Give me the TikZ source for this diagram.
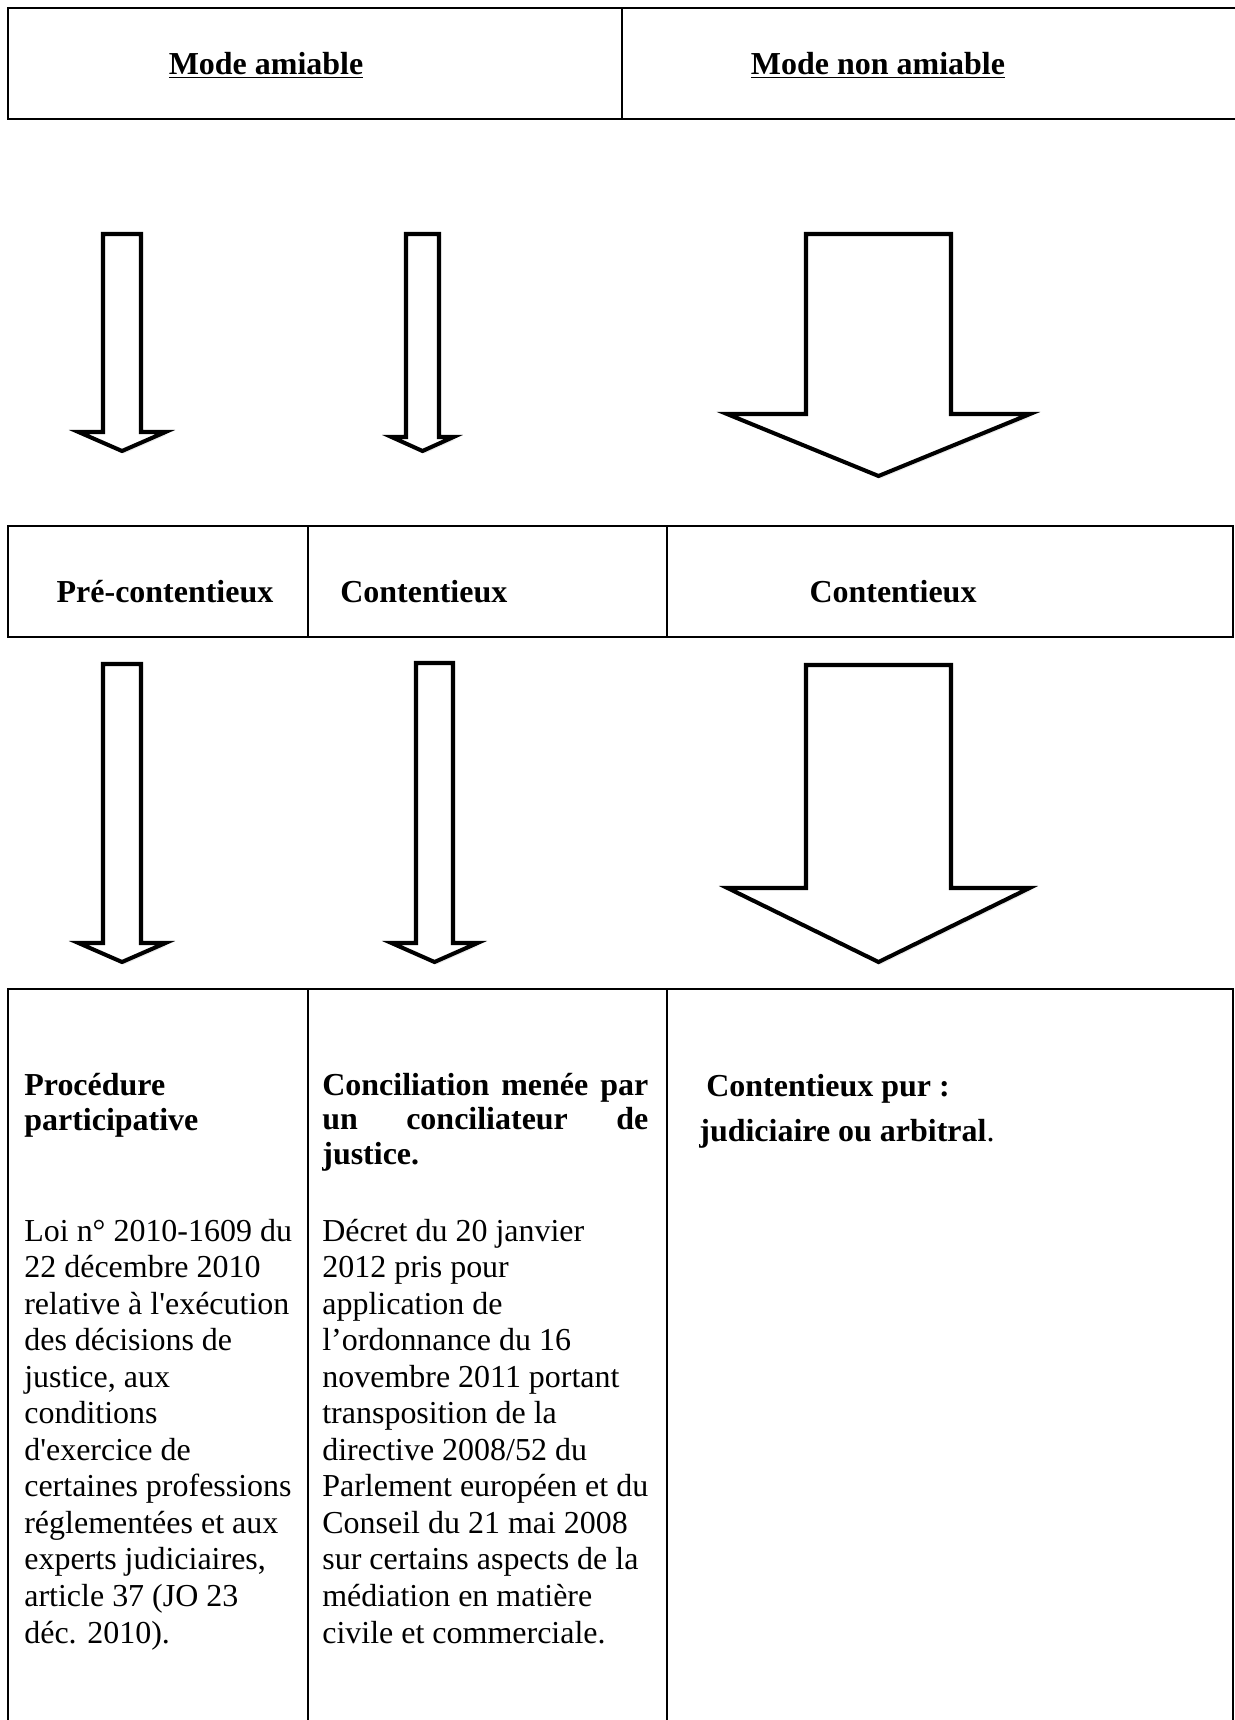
\documentclass[tikz,border=0pt]{standalone}
\usepackage{fontspec}
\setmainfont{Liberation Serif}
\usetikzlibrary{shadows}

\tikzset{
  cell/.style={draw, line width=1.1pt},
  blockarrow/.style={draw, line width=2.3pt, fill=white, line join=miter,
    drop shadow={opacity=0.15, shadow xshift=1.2pt, shadow yshift=-1.5pt}},
  title/.style={font=\fontsize{18.2}{19.4}\selectfont\bfseries, inner sep=0pt, anchor=base},
  body/.style={font=\fontsize{18.2}{20.8}\selectfont, inner sep=0pt, anchor=base west, align=left},
}

% block arrow pointing down: x, top, head base, tip, shaft half width, head half width
\newcommand{\downblock}[6]{%
  \draw[blockarrow] (#1-#5,#2) -- (#1+#5,#2) -- (#1+#5,#3) -- (#1+#6,#3)
    -- (#1,#4) -- (#1-#6,#3) -- (#1-#5,#3) -- cycle;}

\begin{document}
\begin{tikzpicture}[x=0.02cm, y=-0.02cm]
  \useasboundingbox (0,0) rectangle (1234,1720);

  % modes
  \draw[cell] (1240,8) -- (8,8) -- (8,119) -- (1240,119);
  \draw[cell] (622,8) -- (622,119);
  \node[title] (amiable) at (266,75) {\underline{Mode amiable}};
  \node[title] (nonamiable) at (878,75) {\underline{Mode non amiable}};

  \downblock{122}{234}{432}{451}{19}{43.5}
  \downblock{422.5}{234}{437}{451}{16.5}{31}
  \downblock{878.5}{234}{414}{476}{72.5}{151.5}

  % contentieux or not
  \draw[cell] (8,526) rectangle (1233,637);
  \draw[cell] (308,526) -- (308,637) (667,526) -- (667,637);
  \node[title] (precont) at (165,602) {Pré-contentieux};
  \node[title, anchor=base west] (cont) at (340,602) {Contentieux};
  \node[title] (contpur) at (893,602) {Contentieux};

  \downblock{122}{664}{943}{962}{19}{43.5}
  \downblock{434.5}{663}{943}{962}{18.5}{43}
  \downblock{878.5}{665}{888}{962}{72.5}{151}

  % procedures (multi-line nodes sit on their last line)
  \draw[cell] (8,989) rectangle (1233,1725);
  \draw[cell] (308,989) -- (308,1725) (667,989) -- (667,1725);
  \node[title, anchor=base west, align=left] (proc) at (24,1130) {Procédure\\participative};
  \node[title, anchor=base west, align=left] (concil) at (322,1164)
    {\makebox[6.52cm][s]{Conciliation menée par}\\\makebox[6.52cm][s]{un conciliateur de}\\justice.};
  \node[title, anchor=base west] (pur) at (706,1096) {Contentieux pur :};
  \node[title, anchor=base west] (jud) at (699,1141) {judiciaire ou arbitral\textmd{.}};

  \node[body] (loi) at (24,1643) {Loi n° 2010-1609 du\\22 décembre 2010\\relative à l\textquotesingle exécution\\des décisions de\\justice, aux\\conditions\\d\textquotesingle exercice de\\certaines professions\\réglementées et aux\\experts judiciaires,\\article 37 (JO 23\\déc. 2010).};
  \node[body] (decret) at (322,1643) {Décret du 20 janvier\\2012 pris pour\\application de\\l’ordonnance du 16\\novembre 2011 portant\\transposition de la\\directive 2008/52 du\\Parlement européen et du\\Conseil du 21 mai 2008\\sur certains aspects de la\\médiation en matière\\civile et commerciale.};
\end{tikzpicture}
\end{document}
